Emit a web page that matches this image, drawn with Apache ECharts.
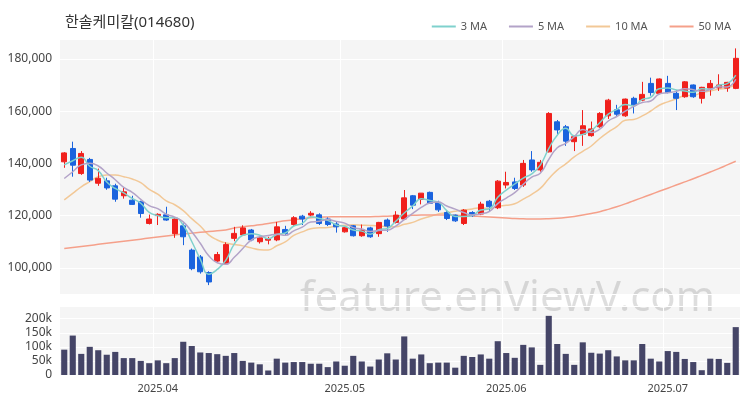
<!DOCTYPE html>
<html><head><meta charset="utf-8">
<script src="https://cdn.jsdelivr.net/npm/echarts@6/dist/echarts.min.js"></script>
<style>html,body{margin:0;padding:0;background:#fff}#c{width:750px;height:400px}</style>
</head><body><div id="c"></div>
<script>
const dates = ['2025-03-17','2025-03-18','2025-03-19','2025-03-20','2025-03-21','2025-03-24','2025-03-25','2025-03-26','2025-03-27','2025-03-28','2025-03-31',
'2025-04-01','2025-04-02','2025-04-03','2025-04-04','2025-04-07','2025-04-08','2025-04-09','2025-04-10','2025-04-11','2025-04-14','2025-04-15','2025-04-16','2025-04-17','2025-04-18','2025-04-21','2025-04-22','2025-04-23','2025-04-24','2025-04-25','2025-04-28','2025-04-29','2025-04-30',
'2025-05-02','2025-05-07','2025-05-08','2025-05-09','2025-05-12','2025-05-13','2025-05-14','2025-05-15','2025-05-16','2025-05-19','2025-05-20','2025-05-21','2025-05-22','2025-05-23','2025-05-26','2025-05-27','2025-05-28','2025-05-29','2025-05-30',
'2025-06-02','2025-06-04','2025-06-05','2025-06-09','2025-06-10','2025-06-11','2025-06-12','2025-06-13','2025-06-16','2025-06-17','2025-06-18','2025-06-19','2025-06-20','2025-06-23','2025-06-24','2025-06-25','2025-06-26','2025-06-27','2025-06-30',
'2025-07-01','2025-07-02','2025-07-03','2025-07-04','2025-07-07','2025-07-08','2025-07-09','2025-07-10','2025-07-11'];
const opens = [140600,145700,136100,141500,132400,133300,131400,127600,125900,125300,117000,120000,120300,113100,116100,106800,104200,98200,102600,101600,111300,112600,114500,110000,110600,110700,114700,116600,119800,120200,120300,118700,116800,113800,116100,112300,115300,113100,118300,117400,118700,127600,126200,128900,125100,121200,120200,117000,121200,120600,125500,123000,131700,132900,131700,141300,137500,144400,155900,154000,148300,151100,150600,154000,158200,160500,158200,164900,164200,170600,166800,170600,166800,165500,170000,164900,168800,168900,168800,168700];
const closes = [144000,139300,143800,133600,134300,130600,126300,129100,124300,120800,118700,120500,118300,118700,111900,99700,98500,94600,105100,108900,113200,115300,110700,111500,111200,115700,113200,119200,118700,120900,117000,116600,115700,115400,112300,114500,111900,117400,116000,120200,126800,124000,128600,124700,122200,118900,118000,122100,120000,124400,123400,133200,132700,130400,140000,137500,140400,159100,152800,148500,150200,154400,153200,159100,164200,158800,164600,162400,166400,167100,172300,167100,164900,171200,165500,169100,170600,170000,171000,180200];
const lows = [138300,134900,135600,132900,131400,129900,125300,126500,124100,119200,116600,116400,118000,111500,108700,99100,97800,93400,102300,101300,110200,112300,110200,109300,109000,110200,112600,115700,116400,119500,116400,116000,113500,113500,112000,111900,111500,111900,113800,117000,118300,122500,124300,124500,121400,118300,117600,116400,119500,120200,121400,122500,130400,129800,131000,136800,136800,144200,150800,146700,144700,146700,150200,153600,157000,157800,157800,159100,163800,165900,166400,166800,160400,165100,165100,162900,165900,167700,167400,168400];
const highs = [144300,148300,144700,142100,138000,134500,132200,130600,127600,125700,120400,120900,123400,119000,117000,107400,104900,98700,106100,109800,115700,116300,114900,111900,111900,117600,116100,119800,120300,121700,120900,119300,117600,115700,116400,116600,115700,117600,118900,121700,129800,127900,128600,129200,125700,121700,120400,122500,121700,125300,126000,133600,136800,134500,141300,144700,141300,159600,156600,154700,150600,160400,156000,159600,164700,162400,164800,165500,171200,172800,172500,173500,168100,171500,170200,169300,171900,174100,171200,184000];
const volumes = [90000,140000,75000,100000,88000,72000,82000,60000,60000,50000,42000,52000,42000,60000,118000,103000,80000,78000,74000,68000,78000,50000,44000,38000,16000,58000,44000,46000,46000,40000,40000,28000,48000,33000,68000,48000,30000,55000,77000,55000,137000,58000,73000,42000,44000,44000,26000,68000,64000,73000,58000,120000,78000,61000,107000,98000,36000,210000,110000,75000,36000,116000,79000,76000,88000,66000,52000,52000,110000,58000,48000,85000,82000,57000,46000,17000,58000,57000,43000,170000];
// moving-average values at the start of the window (prior history not shown)
const ma3Head = [139400,141000];
const ma5Head = [134200,136800,139400,140000];
const ma10Head = [126000,128500,131000,133000,134900,135500,135500,134900,134000];
const ma50 = [107400,107800,108200,108600,109000,109400,109800,110200,110600,111000,
111400,111800,112200,112600,113000,113300,113600,113900,114200,114500,
115300,115700,116100,116500,117000,117500,118000,118400,118800,119200,
119400,119500,119600,119600,119600,119600,119600,119700,119800,119900,
120000,120100,120200,120200,120200,120200,120100,120000,119900,119700,
119500,119300,119100,118900,118800,118700,118700,118800,119000,119300,
119700,120200,120800,121500,122400,123400,124500,125700,126900,128100,
129300,130500,131700,132900,134100,135400,136700,138000,139400,140800];

function ma(n, head){
  return closes.map((c,i)=>{
    if(i<n-1) return head[i];
    let s=0; for(let k=i-n+1;k<=i;k++) s+=closes[k];
    return Math.round(s/n);
  });
}
const candle = dates.map((d,i)=>[opens[i],closes[i],lows[i],highs[i]]);
const isMonthStart = (i)=> i>0 && dates[i].slice(5,7)!==dates[i-1].slice(5,7);
const fmtDate = v => v.slice(0,4)+'.'+v.slice(5,7);
const FONT = '"Noto Sans", "Noto Sans CJK KR", sans-serif';
const chart = echarts.init(document.getElementById('c'));
chart.setOption({
  animation:false,
  textStyle:{fontFamily:FONT},
  title:{text:'한솔케미칼(014680)',left:60,top:10,textStyle:{fontSize:15,fontWeight:'normal',color:'#333',fontFamily:FONT}},
  legend:{right:14,top:16,icon:'rect',itemWidth:24,itemHeight:2,itemGap:22,textStyle:{color:'#555',fontSize:11},
    data:['3 MA','5 MA','10 MA','50 MA']},
  graphic:[{type:'text',left:300,top:278,z:0,silent:true,
    style:{text:'feature.enViewV.com',fontSize:42,fill:'rgba(0,0,0,0.13)',fontFamily:FONT}}],
  grid:[{left:60,right:10,top:39,height:255,show:true,backgroundColor:'#f5f5f5',borderWidth:0},
        {left:60,right:10,top:306,height:69,show:true,backgroundColor:'#f5f5f5',borderWidth:0}],
  xAxis:[
    {type:'category',data:dates,gridIndex:0,boundaryGap:true,axisLine:{show:false},axisTick:{show:false},axisLabel:{show:false},
     splitLine:{show:true,interval:(i)=>isMonthStart(i),lineStyle:{color:'#fff',width:1}}},
    {type:'category',data:dates,gridIndex:1,boundaryGap:true,axisLine:{show:false},axisTick:{show:false},
     axisLabel:{interval:(i)=>isMonthStart(i),formatter:fmtDate,color:'#444',fontSize:11,margin:8},
     splitLine:{show:true,interval:(i)=>isMonthStart(i),lineStyle:{color:'#fff',width:1}}}
  ],
  yAxis:[
    {type:'value',gridIndex:0,min:90000,max:187600,splitNumber:5,
     axisLabel:{showMinLabel:false,showMaxLabel:false,color:'#444',fontSize:12,formatter:v=>v.toLocaleString('en-US')},
     axisLine:{show:false},axisTick:{show:false},splitLine:{lineStyle:{color:'#fff',width:1}}},
    {type:'value',gridIndex:1,min:0,max:245000,interval:50000,
     axisLabel:{showMaxLabel:false,color:'#444',fontSize:12,formatter:v=>v===0?'0':(v/1000)+'k'},
     axisLine:{show:false},axisTick:{show:false},splitLine:{lineStyle:{color:'#fff',width:1}}}
  ],
  series:[
    {type:'candlestick',data:candle,xAxisIndex:0,yAxisIndex:0,barWidth:'65%',z:3,
     itemStyle:{color:'#f0201c',color0:'#1a63de',borderColor:'#f0201c',borderColor0:'#1a63de',borderWidth:1}},
    {name:'3 MA',type:'line',data:ma(3,ma3Head),symbol:'none',smooth:true,lineStyle:{width:1.5,color:'#7fd1cd'},itemStyle:{color:'#7fd1cd'},z:4},
    {name:'5 MA',type:'line',data:ma(5,ma5Head),symbol:'none',smooth:true,lineStyle:{width:1.5,color:'#b3a3c8'},itemStyle:{color:'#b3a3c8'},z:4},
    {name:'10 MA',type:'line',data:ma(10,ma10Head),symbol:'none',smooth:true,lineStyle:{width:1.5,color:'#f2c897'},itemStyle:{color:'#f2c897'},z:2},
    {name:'50 MA',type:'line',data:ma50,symbol:'none',smooth:true,lineStyle:{width:1.5,color:'#f5a08a'},itemStyle:{color:'#f5a08a'},z:2},
    {type:'bar',data:volumes,xAxisIndex:1,yAxisIndex:1,barWidth:'72%',itemStyle:{color:'#454567'}}
  ]
});
</script></body></html>
